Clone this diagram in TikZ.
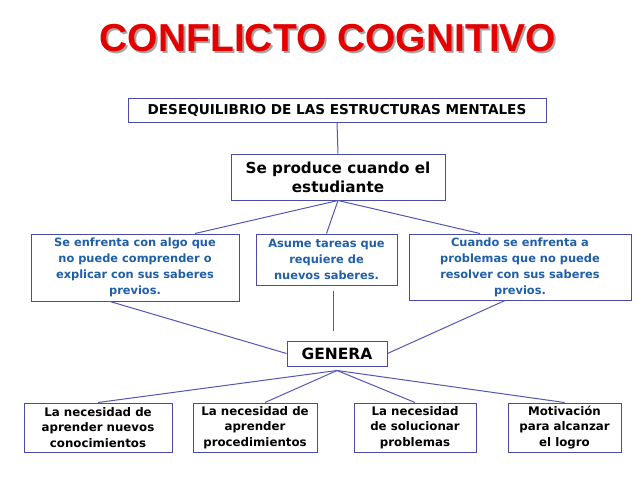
\documentclass[tikz,border=0pt]{standalone}
\usepackage{fontspec}
\setmainfont{DejaVu Sans}
\newfontfamily\titlefont{Liberation Sans}
\definecolor{bx}{HTML}{4A4AA8}
\definecolor{tb}{HTML}{1F5FA8}
\definecolor{ln}{HTML}{5555B5}
\begin{document}
\begin{tikzpicture}[x=1pt,y=-1pt,
  box/.style={draw=bx,line width=1pt,fill=white,align=center,inner sep=1pt},
  blk/.style={box,font=\fontsize{13.6}{16}\selectfont\bfseries},
  blu/.style={box,text=tb,font=\fontsize{11.4}{16}\selectfont\bfseries},
  bot/.style={box,font=\fontsize{11.8}{15.5}\selectfont\bfseries},
  con/.style={draw=ln,line width=1pt}]
\useasboundingbox (0,0) rectangle (638,479);
\node[text=gray!70,font=\titlefont\fontsize{39}{42}\selectfont\bfseries] at (330,40) {CONFLICTO COGNITIVO};
\node (t) [text=red!90!black,font=\titlefont\fontsize{39}{42}\selectfont\bfseries] at (328,38) {CONFLICTO COGNITIVO};
\node (d) [blk,minimum width=418,minimum height=24] at (337,110) {DESEQUILIBRIO DE LAS ESTRUCTURAS MENTALES};
\node (s) [box,font=\fontsize{15.2}{19}\selectfont\bfseries,minimum width=214,minimum height=46] at (338,177) {Se produce cuando el\\estudiante};
\node (l) [blu,minimum width=208,minimum height=67] at (135,267.5) {Se enfrenta con algo que\\no puede comprender o\\explicar con sus saberes\\previos.};
\node (m) [blu,minimum width=141,minimum height=51] at (326.5,259.5) {Asume tareas que\\requiere de\\nuevos saberes.};
\node (r) [blu,minimum width=222,minimum height=66] at (520,267) {Cuando se enfrenta a\\problemas que no puede\\resolver con sus saberes\\previos.};
\node (g) [box,font=\fontsize{15.5}{19}\selectfont\bfseries,minimum width=100,minimum height=25] at (337,353.5) {GENERA};
\node (b1) [bot,minimum width=148,minimum height=49] at (98,427.5) {La necesidad de\\aprender  nuevos\\conocimientos};
\node (b2) [bot,minimum width=124,minimum height=49] at (255,427.5) {La necesidad de\\aprender\\procedimientos};
\node (b3) [bot,minimum width=122,minimum height=49] at (415,427.5) {La necesidad\\de solucionar\\problemas};
\node (b4) [bot,minimum width=113,minimum height=49] at (564.5,427.5) {Motivación\\para alcanzar\\el logro};
\coordinate (v1) at (333,291);
\coordinate (v2) at (333,331);
\draw[con] (d.south) -- (s.north);
\draw[con] (s.south) -- ([xshift=60]l.north);
\draw[con] (s.south) -- (m.north);
\draw[con] (s.south) -- ([xshift=-40]r.north);
\draw[con] ([xshift=-25]l.south) -- (g.west);
\draw[con] (v1) -- (v2);
\draw[con] ([xshift=-15]r.south) -- (g.east);
\draw[con] ([yshift=-4]g.south) -- (b1.north);
\draw[con] ([yshift=-4]g.south) -- ([xshift=10]b2.north);
\draw[con] ([yshift=-4]g.south) -- (b3.north);
\draw[con] ([yshift=-4]g.south) -- (b4.north);
\end{tikzpicture}
\end{document}
